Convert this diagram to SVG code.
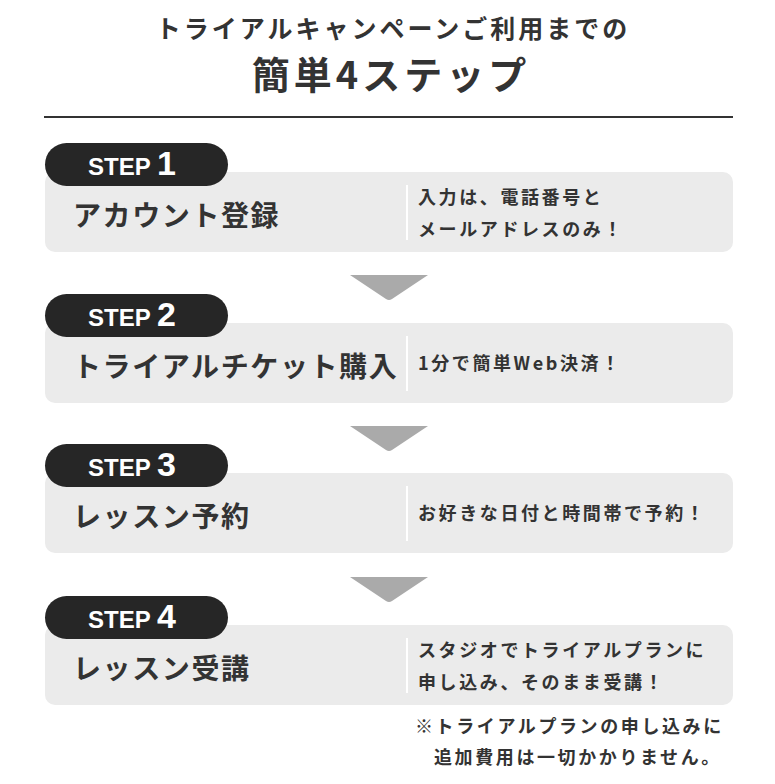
<svg xmlns="http://www.w3.org/2000/svg" width="775" height="784" viewBox="0 0 775 784">
<style>
text{font-family:"Noto Sans CJK JP","Noto Sans",sans-serif;fill:#333;font-weight:bold}
.box{fill:#ebebeb}
.pill{fill:#262626}
.st{font-family:"Liberation Sans",Arial,sans-serif;fill:#fff;font-size:24px;font-weight:bold}
.sn{font-size:34px}
.main{font-size:28px;letter-spacing:1.6px}
.sub{font-size:18px;letter-spacing:2.6px}
.div{stroke:#fff;stroke-width:2}
.chev{fill:#aaa}
</style>
<rect width="775" height="784" fill="#fff"/>
<g id="title">
<text x="393" y="38" text-anchor="middle" font-size="25" letter-spacing="3">トライアルキャンペーンご利用までの</text>
<text x="391" y="89" text-anchor="middle" font-size="38" letter-spacing="4">簡単4ステップ</text>
<line x1="44" y1="117" x2="733" y2="117" stroke="#333" stroke-width="2"/>
</g>
<g id="connectors">
<path class="chev" d="M350 275 H428 L392 299 Q389 301 386 299 Z"/>
<path class="chev" d="M350 426 H428 L392 450 Q389 452 386 450 Z"/>
<path class="chev" d="M350 577 H428 L392 601 Q389 603 386 601 Z"/>
</g>
<g id="step1">
<rect class="box" x="45" y="172" width="688" height="80" rx="10"/>
<rect class="pill" x="45" y="143" width="183" height="43" rx="21.5"/>
<text class="st" x="88" y="175">STEP <tspan class="sn">1</tspan></text>
<text class="main" x="73" y="226">アカウント登録</text>
<line class="div" x1="407" y1="185" x2="407" y2="240"/>
<text class="sub" x="418" y="204">入力は、電話番号と</text>
<text class="sub" x="418" y="236">メールアドレスのみ！</text>
</g>
<g id="step2">
<rect class="box" x="45" y="323" width="688" height="80" rx="10"/>
<rect class="pill" x="45" y="294" width="183" height="43" rx="21.5"/>
<text class="st" x="88" y="326">STEP <tspan class="sn">2</tspan></text>
<text class="main" x="73" y="377">トライアルチケット購入</text>
<line class="div" x1="407" y1="336" x2="407" y2="391"/>
<text class="sub" x="418" y="370">1分で簡単Web決済！</text>
</g>
<g id="step3">
<rect class="box" x="45" y="473" width="688" height="80" rx="10"/>
<rect class="pill" x="45" y="444" width="183" height="43" rx="21.5"/>
<text class="st" x="88" y="476">STEP <tspan class="sn">3</tspan></text>
<text class="main" x="73" y="527">レッスン予約</text>
<line class="div" x1="407" y1="486" x2="407" y2="541"/>
<text class="sub" x="418" y="520">お好きな日付と時間帯で予約！</text>
</g>
<g id="step4">
<rect class="box" x="45" y="625" width="688" height="80" rx="10"/>
<rect class="pill" x="45" y="596" width="183" height="43" rx="21.5"/>
<text class="st" x="88" y="628">STEP <tspan class="sn">4</tspan></text>
<text class="main" x="73" y="679">レッスン受講</text>
<line class="div" x1="407" y1="638" x2="407" y2="693"/>
<text class="sub" x="418" y="657">スタジオでトライアルプランに</text>
<text class="sub" x="418" y="689">申し込み、そのまま受講！</text>
</g>
<g id="note">
<text class="sub" x="415" y="733">※トライアルプランの申し込みに</text>
<text class="sub" x="434" y="764">追加費用は一切かかりません。</text>
</g>
</svg>
